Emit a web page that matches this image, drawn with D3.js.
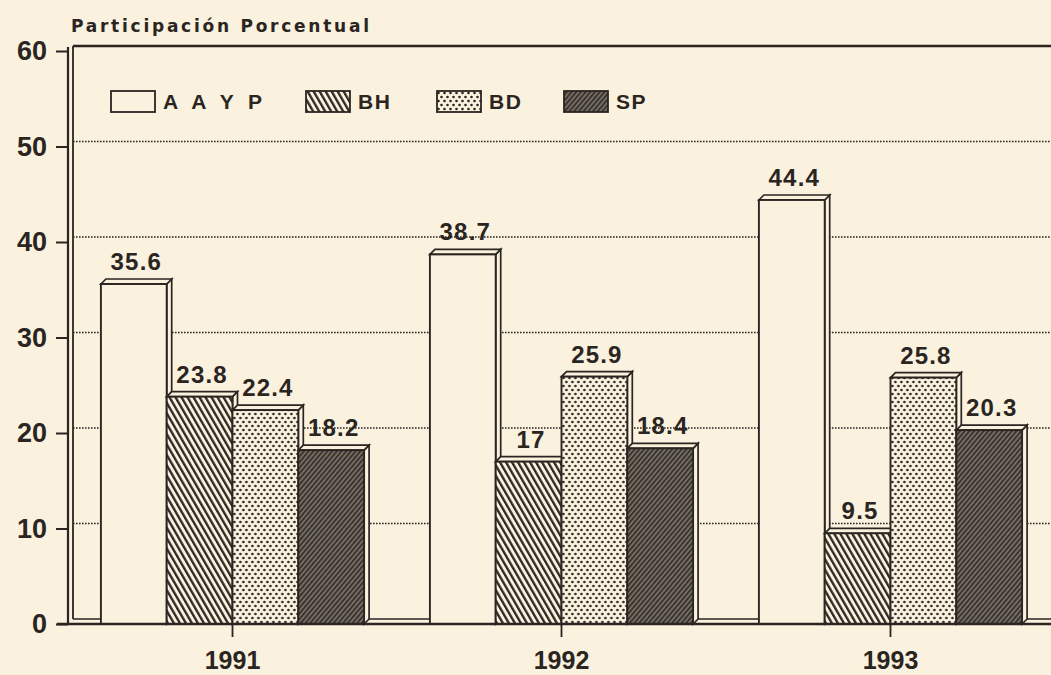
<!DOCTYPE html>
<html>
<head>
<meta charset="utf-8">
<script src="https://cdn.jsdelivr.net/npm/d3@7"></script>
<style>
  html, body { margin: 0; padding: 0; background: #fbf1df; }
  svg { display: block; }
  text { font-family: "Liberation Sans", Arial, sans-serif; font-weight: bold; fill: #2a2521; }
</style>
</head>
<body>
<svg id="chart" width="1051" height="675"></svg>
<script>
// data
const years = ["1991", "1992", "1993"]
const series = ["AAYP", "BH", "BD", "SP"]
const legendLabels = ["A A Y P", "BH", "BD", "SP"]
const aaypValues = [35.6, 38.7, 44.4]
const bhValues = [23.8, 17, 9.5]
const bdValues = [22.4, 25.9, 25.8]
const spValues = [18.2, 18.4, 20.3]
const yTicks = [0, 10, 20, 30, 40, 50, 60]
const title = "Participación Porcentual"

const ink = "#2a2521"
const paper = "#fbf1df"
const depth = 5

const svg = d3.select("#chart")
const W = 1051

const seriesValues = [aaypValues, bhValues, bdValues, spValues]
const groups = years.map((yr, i) => ({
    year: yr,
    values: series.map((s, j) => ({ key: s, value: seriesValues[j][i] }))
}))

const y = d3.scaleLinear().domain([0, 60]).range([624, 51])
const x0 = d3.scaleBand().domain(years).range([68, 1055]).paddingInner(0.2).paddingOuter(0.1)
const x1 = d3.scaleBand().domain(series).range([0, x0.bandwidth()])

// patterns
const defs = svg.append("defs")

const bh = defs.append("pattern").attr("id", "p-BH")
    .attr("patternUnits", "userSpaceOnUse").attr("width", 5.2).attr("height", 10)
    .attr("patternTransform", "rotate(-30)")
bh.append("rect").attr("width", 5.2).attr("height", 10).attr("fill", paper)
bh.append("line").attr("x1", 1.2).attr("x2", 1.2).attr("y1", 0).attr("y2", 10)
    .attr("stroke", ink).attr("stroke-width", 2.3)

const bd = defs.append("pattern").attr("id", "p-BD")
    .attr("patternUnits", "userSpaceOnUse").attr("width", 6).attr("height", 8)
bd.append("rect").attr("width", 6).attr("height", 8).attr("fill", paper)
bd.append("circle").attr("cx", 1.5).attr("cy", 2).attr("r", 1.3).attr("fill", ink)
bd.append("circle").attr("cx", 4.5).attr("cy", 6).attr("r", 1.3).attr("fill", ink)

const sp = defs.append("pattern").attr("id", "p-SP")
    .attr("patternUnits", "userSpaceOnUse").attr("width", 3.6).attr("height", 10)
    .attr("patternTransform", "rotate(40)")
sp.append("rect").attr("width", 3.6).attr("height", 10).attr("fill", "#3a342f")
sp.append("line").attr("x1", 1).attr("x2", 1).attr("y1", 0).attr("y2", 10)
    .attr("stroke", "#a49a8c").attr("stroke-width", 1)

const fillFor = k => k === "AAYP" ? paper : `url(#p-${k})`

// back wall grid
svg.append("g").selectAll("line")
    .data(yTicks.filter(t => t > 0 && t < 60))
    .enter().append("line")
    .attr("x1", 73).attr("x2", W)
    .attr("y1", d => y(d) - depth).attr("y2", d => y(d) - depth)
    .attr("stroke", ink).attr("stroke-width", 1.4)
    .attr("stroke-dasharray", "1.6,1.4")

// top border + floor back edge
svg.append("line").attr("x1", 73).attr("x2", W)
    .attr("y1", y(60) - depth).attr("y2", y(60) - depth)
    .attr("stroke", ink).attr("stroke-width", 2.4)
svg.append("line").attr("x1", 73).attr("x2", W)
    .attr("y1", y(0) - depth).attr("y2", y(0) - depth)
    .attr("stroke", ink).attr("stroke-width", 1.6)

// left wall: double line
svg.append("line").attr("x1", 68).attr("x2", 68).attr("y1", y(60) - depth + 1).attr("y2", y(0))
    .attr("stroke", ink).attr("stroke-width", 2.2)
svg.append("line").attr("x1", 73).attr("x2", 73).attr("y1", y(60) - depth).attr("y2", y(0) - depth)
    .attr("stroke", ink).attr("stroke-width", 1.8)

// bars
const w = x1.bandwidth()
const y0 = y(0)
const g = svg.append("g").selectAll(".group")
    .data(groups)
    .enter().append("g")
    .attr("class", "group")
    .attr("transform", d => `translate(${x0(d.year)},0)`)

g.each(function (grp) {
    const sel = d3.select(this)
    grp.values.forEach(v => {
        const x = x1(v.key)
        const yt = y(v.value)
        const bar = sel.append("g")
        bar.append("path")
            .attr("d", `M${x + w},${yt}L${x + w + depth},${yt - depth}L${x + w + depth},${y0 - depth}L${x + w},${y0}Z`)
            .attr("fill", paper).attr("stroke", ink).attr("stroke-width", 1.7)
        bar.append("path")
            .attr("d", `M${x},${yt}L${x + depth},${yt - depth}L${x + w + depth},${yt - depth}L${x + w},${yt}Z`)
            .attr("fill", paper).attr("stroke", ink).attr("stroke-width", 1.7)
        bar.append("rect")
            .attr("x", x).attr("y", yt).attr("width", w).attr("height", y0 - yt)
            .attr("fill", fillFor(v.key)).attr("stroke", ink).attr("stroke-width", 1.9)
        sel.append("text")
            .attr("x", x + w / 2 + depth / 2)
            .attr("y", yt - depth - 9)
            .attr("text-anchor", "middle")
            .style("font-size", "24px")
            .style("letter-spacing", "1.2px")
            .text(String(v.value))
    })
})

// bottom axis
svg.append("line").attr("x1", 57).attr("x2", W).attr("y1", y0).attr("y2", y0)
    .attr("stroke", ink).attr("stroke-width", 2.4)

const xAxis = svg.append("g")
    .attr("transform", `translate(0,${y0})`)
    .call(d3.axisBottom(x0).tickSize(13).tickSizeOuter(0).tickPadding(14))
xAxis.select(".domain").remove()
xAxis.selectAll("line").attr("stroke", ink).attr("stroke-width", 1.8)
xAxis.selectAll("text")
    .attr("fill", ink)
    .style("font-size", "25px")
    .style("font-family", "'Liberation Sans', Arial, sans-serif")
    .style("font-weight", "bold")

const yAxis = svg.append("g")
    .attr("transform", "translate(68,0)")
    .call(d3.axisLeft(y).tickValues(yTicks).tickSize(12).tickPadding(9))
yAxis.select(".domain").remove()
yAxis.selectAll("line").attr("stroke", ink).attr("stroke-width", 2)
yAxis.selectAll("text")
    .attr("fill", ink)
    .style("font-size", "27px")
    .style("font-family", "'Liberation Sans', Arial, sans-serif")
    .style("font-weight", "bold")

// legend
const legendSwatchX = [111, 306, 437, 564]
const legend = svg.append("g").selectAll(".leg")
    .data(series)
    .enter().append("g")
    .attr("class", "leg")
    .attr("transform", (d, i) => `translate(${legendSwatchX[i]},91)`)

legend.append("rect")
    .attr("width", 44).attr("height", 21)
    .attr("fill", d => fillFor(d))
    .attr("stroke", ink).attr("stroke-width", 1.8)

legend.append("text")
    .attr("x", 52)
    .attr("y", 18)
    .style("font-size", "21px")
    .style("letter-spacing", (d, i) => i === 0 ? "0px" : "1.5px")
    .attr("textLength", (d, i) => i === 0 ? 99 : null)
    .attr("lengthAdjust", "spacing")
    .text((d, i) => legendLabels[i])

// title
svg.append("text")
    .attr("x", 71).attr("y", 32)
    .style("font-family", "'DejaVu Sans', sans-serif")
    .style("font-size", "17px")
    .attr("textLength", 298)
    .attr("lengthAdjust", "spacing")
    .text(title)
</script>
</body>
</html>
